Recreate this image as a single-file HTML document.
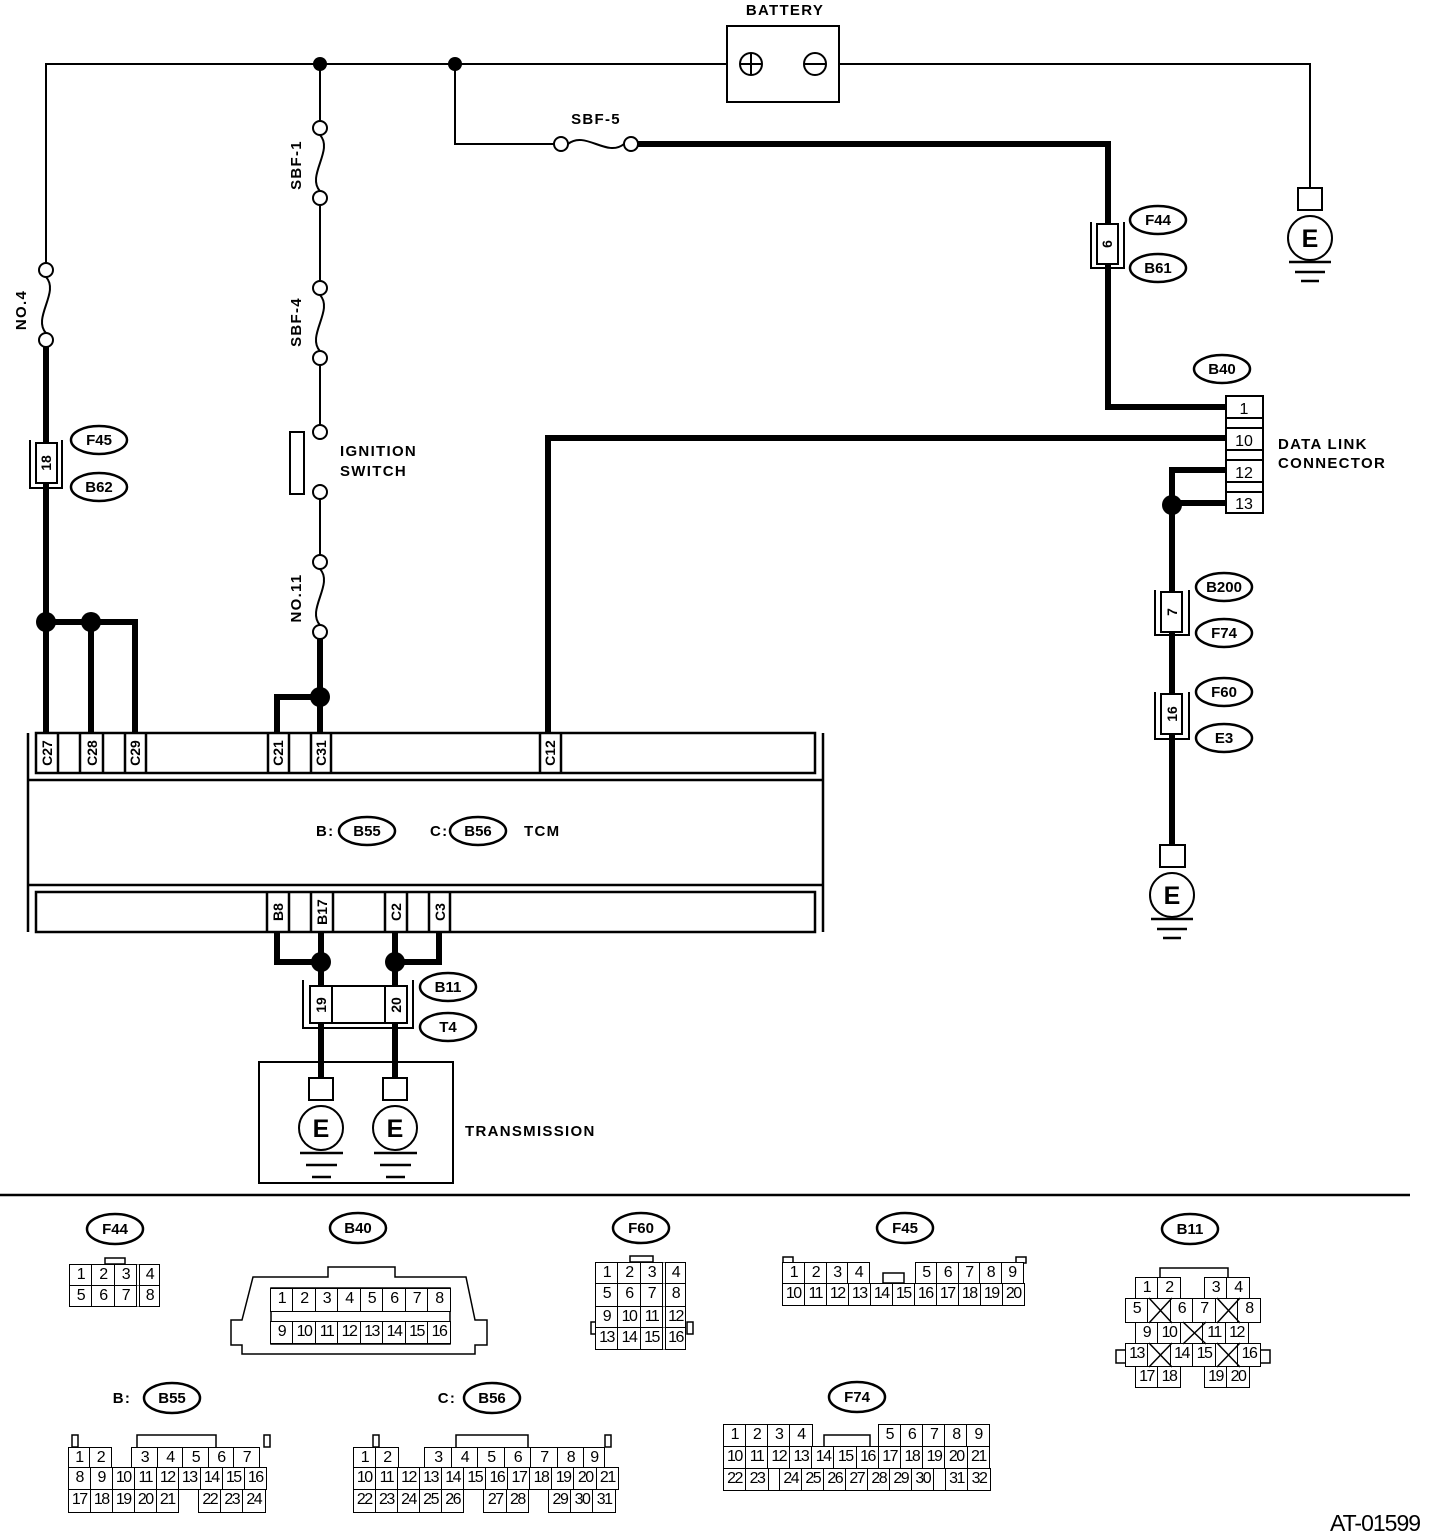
<!DOCTYPE html>
<html><head><meta charset="utf-8"><style>
html,body{margin:0;padding:0;background:#fff;}
body{width:1440px;height:1534px;position:relative;overflow:hidden;font-family:"Liberation Sans",Arial,sans-serif;}
svg{position:absolute;left:0;top:0;}
.r{position:absolute;display:flex;height:22px;}
.r i{display:block;box-sizing:border-box;border:1.5px solid #000;margin-left:-1.5px;font-style:normal;text-align:center;font-size:16px;line-height:19px;letter-spacing:-1.5px;height:100%;background:#fff;}
.r i.e{border-color:transparent;background:transparent;}
</style></head><body>
<svg width="1440" height="1534" viewBox="0 0 1440 1534" font-family="Liberation Sans, Arial, sans-serif" font-weight="bold">
<g fill="none" stroke="#000" stroke-width="2">
<path d="M46 265 V64 H727"/>
<path d="M839 64 H1310 V188"/>
<path d="M455 64 V144 H554"/>
<path d="M320 64 V121"/><path d="M320 205 V281"/><path d="M320 365 V425"/><path d="M320 499 V555"/>
<path d="M46 277 C60 292 32 318 46 333"/>
<path d="M320 135 C334 150 306 176 320 191"/>
<path d="M320 295 C334 310 306 336 320 351"/>
<path d="M320 569 C334 584 306 610 320 625"/>
<path d="M568 144 C585 130 607 158 624 144"/>
</g>
<g fill="#fff" stroke="#000" stroke-width="2">
<circle cx="46" cy="270" r="7"/><circle cx="46" cy="340" r="7"/>
<circle cx="320" cy="128" r="7"/><circle cx="320" cy="198" r="7"/>
<circle cx="320" cy="288" r="7"/><circle cx="320" cy="358" r="7"/>
<circle cx="320" cy="432" r="7"/><circle cx="320" cy="492" r="7"/>
<circle cx="320" cy="562" r="7"/><circle cx="320" cy="632" r="7"/>
<circle cx="561" cy="144" r="7"/><circle cx="631" cy="144" r="7"/>
<rect x="290" y="432" width="14" height="62"/>
<rect x="727" y="26" width="112" height="76"/>
</g>
<g stroke="#000" stroke-width="2" fill="none">
<circle cx="751" cy="64" r="11"/><path d="M740 64 H762 M751 53 V75"/>
<circle cx="815" cy="64" r="11"/><path d="M804 64 H826"/>
</g>
<g fill="none" stroke="#000" stroke-width="6">
<path d="M638 144 H1108 V407 H1226"/>
<path d="M46 347 V733"/>
<path d="M46 622 H135 V733"/><path d="M91 622 V733"/>
<path d="M320 639 V733"/><path d="M320 697 H277 V733"/>
<path d="M548 733 V438 H1226"/>
<path d="M1226 470 H1172 V845"/><path d="M1172 503 H1226"/>
<path d="M277 932 V962 H321"/><path d="M321 932 V1078"/>
<path d="M439 932 V962 H395"/><path d="M395 932 V1078"/>
</g>
<g fill="#000">
<circle cx="320" cy="64" r="7"/><circle cx="455" cy="64" r="7"/>
<circle cx="46" cy="622" r="10"/><circle cx="91" cy="622" r="10"/>
<circle cx="320" cy="697" r="10"/><circle cx="1172" cy="505" r="10"/>
<circle cx="321" cy="962" r="10"/><circle cx="395" cy="962" r="10"/>
</g>
<g fill="#fff" stroke="#000" stroke-width="2">
<path d="M30 440 V488 H62 V440" fill="none"/><rect x="36" y="443" width="21" height="40"/>
<path d="M1091 222 V268 H1124 V222" fill="none"/><rect x="1097" y="224" width="21" height="40"/>
<path d="M1155 590 V635 H1189 V590" fill="none"/><rect x="1161" y="592" width="21" height="40"/>
<path d="M1155 692 V739 H1189 V692" fill="none"/><rect x="1161" y="694" width="21" height="40"/>
<path d="M303 980 V1028 H413 V980" fill="none"/><rect x="310" y="986" width="97" height="37"/>
<path d="M332 986 V1023 M385 986 V1023"/>
</g>
<g font-size="14" text-anchor="middle">
<text transform="translate(51 463) rotate(-90)">18</text>
<text transform="translate(1112 244) rotate(-90)">6</text>
<text transform="translate(1177 612) rotate(-90)">7</text>
<text transform="translate(1177 714) rotate(-90)">16</text>
<text transform="translate(326 1005) rotate(-90)">19</text>
<text transform="translate(401 1005) rotate(-90)">20</text>
</g>
<g fill="#fff" stroke="#000" stroke-width="2">
<rect x="1226" y="396" width="37" height="117"/>
<rect x="1226" y="396" width="37" height="22"/>
<rect x="1226" y="428" width="37" height="22"/>
<rect x="1226" y="460" width="37" height="22"/>
<rect x="1226" y="492" width="37" height="21"/>
</g>
<g font-size="16" text-anchor="middle" font-weight="normal">
<text x="1244" y="414">1</text><text x="1244" y="446">10</text><text x="1244" y="478">12</text><text x="1244" y="509">13</text>
</g>
<g fill="none" stroke="#000" stroke-width="2.5">
<path d="M28 733 V932 M823 733 V932 M28 780 H823 M28 885 H823"/>
<rect x="36" y="733" width="779" height="40"/>
<rect x="36" y="892" width="779" height="40"/>
<path d="M58 733v40 M80 733v40 M103 733v40 M125 733v40 M146 733v40 M268 733v40 M289 733v40 M311 733v40 M331 733v40 M540 733v40 M561 733v40"/>
<path d="M267 892v40 M289 892v40 M311 892v40 M333 892v40 M385 892v40 M407 892v40 M429 892v40 M450 892v40"/>
</g>
<g font-size="14" text-anchor="middle">
<text transform="translate(52 753) rotate(-90)">C27</text>
<text transform="translate(97 753) rotate(-90)">C28</text>
<text transform="translate(140 753) rotate(-90)">C29</text>
<text transform="translate(283 753) rotate(-90)">C21</text>
<text transform="translate(326 753) rotate(-90)">C31</text>
<text transform="translate(555 753) rotate(-90)">C12</text>
<text transform="translate(283 912) rotate(-90)">B8</text>
<text transform="translate(327 912) rotate(-90)">B17</text>
<text transform="translate(401 912) rotate(-90)">C2</text>
<text transform="translate(445 912) rotate(-90)">C3</text>
</g>
<rect x="259" y="1062" width="194" height="121" fill="none" stroke="#000" stroke-width="2"/>
<g fill="#fff" stroke="#000" stroke-width="2">
<rect x="1298" y="188" width="24" height="22"/><circle cx="1310" cy="238" r="22"/>
<rect x="1160" y="845" width="25" height="22"/><circle cx="1172" cy="895" r="22"/>
<rect x="309" y="1078" width="24" height="22"/><circle cx="321" cy="1128" r="22"/>
<rect x="383" y="1078" width="24" height="22"/><circle cx="395" cy="1128" r="22"/>
</g>
<g stroke="#000" stroke-width="2.5">
<path d="M1289 262 H1331 M1295 272 H1325 M1301 281 H1319"/>
<path d="M1151 919 H1193 M1157 929 H1187 M1163 938 H1181"/>
<path d="M300 1153 H343 M306 1165 H337 M312 1177 H331"/>
<path d="M374 1153 H417 M380 1165 H411 M386 1177 H405"/>
</g>
<g font-size="25" text-anchor="middle">
<text x="1310" y="247">E</text><text x="1172" y="904">E</text><text x="321" y="1137">E</text><text x="395" y="1137">E</text>
</g>
<g font-size="15" letter-spacing="1.3">
<text x="785" y="15" text-anchor="middle">BATTERY</text>
<text x="340" y="456">IGNITION</text><text x="340" y="476">SWITCH</text>
<text x="1278" y="449">DATA LINK</text><text x="1278" y="468">CONNECTOR</text>
<text x="465" y="1136">TRANSMISSION</text>
<text x="316" y="836">B:</text><text x="430" y="836">C:</text><text x="524" y="836">TCM</text>
<text x="596" y="124" text-anchor="middle">SBF-5</text>
<text transform="translate(26 310) rotate(-90)" text-anchor="middle">NO.4</text>
<text transform="translate(301 165) rotate(-90)" text-anchor="middle">SBF-1</text>
<text transform="translate(301 322) rotate(-90)" text-anchor="middle">SBF-4</text>
<text transform="translate(301 598) rotate(-90)" text-anchor="middle">NO.11</text>
<text x="122" y="1403" text-anchor="middle">B:</text><text x="447" y="1403" text-anchor="middle">C:</text>
</g>
<g fill="#fff" stroke="#000" stroke-width="2.5">
<ellipse cx="99" cy="440" rx="28" ry="14"/><ellipse cx="99" cy="487" rx="28" ry="14"/>
<ellipse cx="1158" cy="220" rx="28" ry="14"/><ellipse cx="1158" cy="268" rx="28" ry="14"/>
<ellipse cx="1222" cy="369" rx="28" ry="14"/>
<ellipse cx="1224" cy="587" rx="28" ry="14"/><ellipse cx="1224" cy="633" rx="28" ry="14"/>
<ellipse cx="1224" cy="692" rx="28" ry="14"/><ellipse cx="1224" cy="738" rx="28" ry="14"/>
<ellipse cx="448" cy="987" rx="28" ry="14"/><ellipse cx="448" cy="1027" rx="28" ry="14"/>
<ellipse cx="367" cy="831" rx="28" ry="14"/><ellipse cx="478" cy="831" rx="28" ry="14"/>
<ellipse cx="115" cy="1229" rx="28" ry="15"/><ellipse cx="358" cy="1228" rx="28" ry="15"/>
<ellipse cx="641" cy="1228" rx="28" ry="15"/><ellipse cx="905" cy="1228" rx="28" ry="15"/>
<ellipse cx="1190" cy="1229" rx="28" ry="15"/><ellipse cx="172" cy="1398" rx="28" ry="15"/>
<ellipse cx="492" cy="1398" rx="28" ry="15"/><ellipse cx="857" cy="1397" rx="28" ry="15"/>
</g>
<g font-size="15" text-anchor="middle">
<text x="99" y="445">F45</text><text x="99" y="492">B62</text>
<text x="1158" y="225">F44</text><text x="1158" y="273">B61</text>
<text x="1222" y="374">B40</text>
<text x="1224" y="592">B200</text><text x="1224" y="638">F74</text>
<text x="1224" y="697">F60</text><text x="1224" y="743">E3</text>
<text x="448" y="992">B11</text><text x="448" y="1032">T4</text>
<text x="367" y="836">B55</text><text x="478" y="836">B56</text>
<text x="115" y="1234">F44</text><text x="358" y="1233">B40</text>
<text x="641" y="1233">F60</text><text x="905" y="1233">F45</text>
<text x="1190" y="1234">B11</text><text x="172" y="1403">B55</text>
<text x="492" y="1403">B56</text><text x="857" y="1402">F74</text>
</g>
<path d="M0 1195 H1410" stroke="#000" stroke-width="2.5"/>
<text x="1330" y="1531" font-size="23" font-weight="normal" letter-spacing="-1">AT-01599</text>
<g fill="#fff" stroke="#000" stroke-width="1.5">
<rect x="105" y="1258" width="20" height="6"/>
<path d="M253 1277 H328 V1267 H395 V1277 H466 L475 1320 H487 V1345 H475 V1354 H242 V1345 H231 V1320 H242 Z"/>
<rect x="271" y="1288" width="179" height="56"/>
<rect x="630" y="1256" width="23" height="6"/>
<rect x="591" y="1322" width="7" height="12"/><rect x="687" y="1322" width="6" height="12"/>
<rect x="783" y="1257" width="10" height="6"/><rect x="1016" y="1257" width="10" height="6"/>
<rect x="883" y="1273" width="21" height="10"/>
<rect x="824" y="1435" width="46" height="12"/>
<rect x="72" y="1435" width="6" height="12"/><rect x="264" y="1435" width="6" height="12"/>
<path d="M137 1447 V1435 H216 V1447" fill="none"/>
<rect x="373" y="1435" width="6" height="12"/><rect x="605" y="1435" width="6" height="12"/>
<path d="M456 1447 V1435 H528 V1447" fill="none"/>
<path d="M1160 1277 V1268 H1228 V1277" fill="none"/>
<rect x="1116" y="1350" width="10" height="13"/><rect x="1260" y="1350" width="10" height="13"/>
</g>
</svg>

<div class="r" style="left:70px;top:1264px"><i style="width:24px">1</i><i style="width:24px">2</i><i style="width:24px">3</i><i style="width:24px;border-left:4px double #000">4</i></div>
<div class="r" style="left:70px;top:1285px"><i style="width:24px">5</i><i style="width:24px">6</i><i style="width:24px">7</i><i style="width:24px;border-left:4px double #000">8</i></div>
<div class="r" style="left:271px;top:1288px;height:24px"><i style="width:24px">1</i><i style="width:24px">2</i><i style="width:24px">3</i><i style="width:24px">4</i><i style="width:24px">5</i><i style="width:24px">6</i><i style="width:24px">7</i><i style="width:24px">8</i></div>
<div class="r" style="left:271px;top:1321px;height:23px"><i style="width:24px">9</i><i style="width:24px">10</i><i style="width:24px">11</i><i style="width:24px">12</i><i style="width:24px">13</i><i style="width:24px">14</i><i style="width:24px">15</i><i style="width:24px">16</i></div>
<div class="r" style="left:596px;top:1262px"><i style="width:24px">1</i><i style="width:24px">2</i><i style="width:24px">3</i><i style="width:24px;border-left:4px double #000">4</i></div>
<div class="r" style="left:596px;top:1283px;height:24px"><i style="width:24px">5</i><i style="width:24px">6</i><i style="width:24px">7</i><i style="width:24px;border-left:4px double #000">8</i></div>
<div class="r" style="left:596px;top:1306px"><i style="width:24px">9</i><i style="width:24px">10</i><i style="width:24px">11</i><i style="width:24px;border-left:4px double #000">12</i></div>
<div class="r" style="left:596px;top:1327px;height:23px"><i style="width:24px">13</i><i style="width:24px">14</i><i style="width:24px">15</i><i style="width:24px;border-left:4px double #000">16</i></div>
<div class="r" style="left:783px;top:1262px"><i style="width:24px">1</i><i style="width:23px">2</i><i style="width:23px">3</i><i style="width:23px">4</i></div>
<div class="r" style="left:916px;top:1262px"><i style="width:23px">5</i><i style="width:23px">6</i><i style="width:23px">7</i><i style="width:23px">8</i><i style="width:23px">9</i></div>
<div class="r" style="left:783px;top:1283px;height:23px"><i style="width:23.5px">10</i><i style="width:23.5px">11</i><i style="width:23.5px">12</i><i style="width:23.5px">13</i><i style="width:23.5px">14</i><i style="width:23.5px">15</i><i style="width:23.5px">16</i><i style="width:23.5px">17</i><i style="width:23.5px">18</i><i style="width:23.5px">19</i><i style="width:23.5px">20</i></div>
<div class="r" style="left:1136px;top:1277px"><i style="width:24px">1</i><i style="width:24px">2</i></div>
<div class="r" style="left:1205px;top:1277px"><i style="width:24px">3</i><i style="width:24px">4</i></div>
<div class="r" style="left:1126px;top:1298px;height:25px"><i style="width:24px">5</i><i style="width:24px"></i><i style="width:24px">6</i><i style="width:24px">7</i><i style="width:24px"></i><i style="width:24px">8</i></div>
<div class="r" style="left:1136px;top:1322px"><i style="width:24px">9</i><i style="width:24px">10</i><i style="width:24px"></i><i style="width:24px">11</i><i style="width:24px">12</i></div>
<div class="r" style="left:1126px;top:1343px;height:24px"><i style="width:24px">13</i><i style="width:24px"></i><i style="width:24px">14</i><i style="width:24px">15</i><i style="width:24px"></i><i style="width:24px">16</i></div>
<div class="r" style="left:1136px;top:1366px"><i style="width:24px">17</i><i style="width:24px">18</i></div>
<div class="r" style="left:1205px;top:1366px"><i style="width:24px">19</i><i style="width:24px">20</i></div>
<div class="r" style="left:69px;top:1447px;height:22px"><i style="width:23px">1</i><i style="width:23px">2</i><i class="e" style="width:22px"></i><i style="width:27px">3</i><i style="width:27px">4</i><i style="width:27px">5</i><i style="width:27px">6</i><i style="width:27px">7</i></div>
<div class="r" style="left:69px;top:1467px;height:23px"><i style="width:23.5px">8</i><i style="width:23.5px">9</i><i style="width:23.5px">10</i><i style="width:23.5px">11</i><i style="width:23.5px">12</i><i style="width:23.5px">13</i><i style="width:23.5px">14</i><i style="width:23.5px">15</i><i style="width:23.5px">16</i></div>
<div class="r" style="left:69px;top:1489px;height:24px"><i style="width:23.5px">17</i><i style="width:23.5px">18</i><i style="width:23.5px">19</i><i style="width:23.5px">20</i><i style="width:23.5px">21</i><i class="e" style="width:22px"></i><i style="width:23.5px">22</i><i style="width:23.5px">23</i><i style="width:23.5px">24</i></div>
<div class="r" style="left:354px;top:1447px;height:22px"><i style="width:24px">1</i><i style="width:24px">2</i><i class="e" style="width:28px"></i><i style="width:28px">3</i><i style="width:28px">4</i><i style="width:28px">5</i><i style="width:28px">6</i><i style="width:28px">7</i><i style="width:28px">8</i><i style="width:22px">9</i></div>
<div class="r" style="left:354px;top:1467px;height:23px"><i style="width:23.6px">10</i><i style="width:23.6px">11</i><i style="width:23.6px">12</i><i style="width:23.6px">13</i><i style="width:23.6px">14</i><i style="width:23.6px">15</i><i style="width:23.6px">16</i><i style="width:23.6px">17</i><i style="width:23.6px">18</i><i style="width:23.6px">19</i><i style="width:23.6px">20</i><i style="width:23.6px">21</i></div>
<div class="r" style="left:354px;top:1489px;height:24px"><i style="width:23.6px">22</i><i style="width:23.6px">23</i><i style="width:23.6px">24</i><i style="width:23.6px">25</i><i style="width:23.6px">26</i><i class="e" style="width:22px"></i><i style="width:23.6px">27</i><i style="width:23.6px">28</i><i class="e" style="width:22px"></i><i style="width:23.6px">29</i><i style="width:23.6px">30</i><i style="width:23.6px">31</i></div>
<div class="r" style="left:724px;top:1424px;height:24px"><i style="width:23.7px">1</i><i style="width:23.7px">2</i><i style="width:23.7px">3</i><i style="width:23.7px">4</i></div>
<div class="r" style="left:879px;top:1424px;height:24px"><i style="width:23.7px">5</i><i style="width:23.7px">6</i><i style="width:23.7px">7</i><i style="width:23.7px">8</i><i style="width:23.7px">9</i></div>
<div class="r" style="left:724px;top:1446px;height:23px"><i style="width:23.7px">10</i><i style="width:23.7px">11</i><i style="width:23.7px">12</i><i style="width:23.7px">13</i><i style="width:23.7px">14</i><i style="width:23.7px">15</i><i style="width:23.7px">16</i><i style="width:23.7px">17</i><i style="width:23.7px">18</i><i style="width:23.7px">19</i><i style="width:23.7px">20</i><i style="width:23.7px">21</i></div>
<div class="r" style="left:724px;top:1468px;height:23px"><i style="width:24px">22</i><i style="width:24px">23</i><i style="width:13px"></i><i style="width:23.5px">24</i><i style="width:23.5px">25</i><i style="width:23.5px">26</i><i style="width:23.5px">27</i><i style="width:23.5px">28</i><i style="width:23.5px">29</i><i style="width:23.5px">30</i><i style="width:13px"></i><i style="width:24px">31</i><i style="width:24px">32</i></div>

<svg width="1440" height="1534" style="pointer-events:none">
<g stroke="#000" stroke-width="1.5">
<path d="M1149 1298 L1172 1323 M1172 1298 L1149 1323"/>
<path d="M1217 1298 L1240 1323 M1240 1298 L1217 1323"/>
<path d="M1183 1322 L1206 1344 M1206 1322 L1183 1344"/>
<path d="M1149 1343 L1172 1367 M1172 1343 L1149 1367"/>
<path d="M1217 1343 L1240 1367 M1240 1343 L1217 1367"/>
</g>
</svg>
</body></html>
